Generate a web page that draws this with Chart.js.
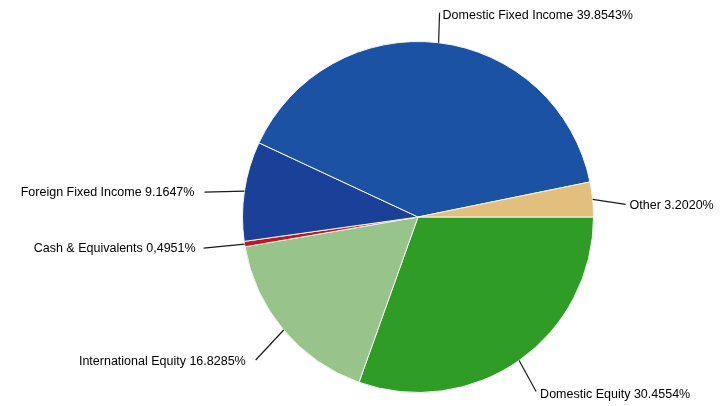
<!DOCTYPE html>
<html>
<head>
<meta charset="utf-8">
<script src="https://cdn.jsdelivr.net/npm/chart.js@4/dist/chart.umd.min.js"></script>
<style>
  html, body { margin: 0; padding: 0; background: #ffffff; }
  #wrap { width: 721px; height: 406px; }
</style>
</head>
<body>
<div id="wrap"><canvas id="c" width="721" height="406"></canvas></div>
<script>
const categories = ["Domestic Equity", "International Equity", "Cash & Equivalents", "Foreign Fixed Income", "Domestic Fixed Income", "Other"];
const values = [30.4554, 16.8285, 0.4951, 9.1647, 39.8543, 3.2020];
const valueLabels = ["30.4554%", "16.8285%", "0,4951%", "9.1647%", "39.8543%", "3.2020%"];
const colors = ["#2f9c25", "#98c38b", "#c4151c", "#1b4097", "#1b52a4", "#e2bf7d"];

// leader line offsets from the slice's outer edge (layout only)
const leaders = [
  { dx: 17, dy: 31, tx: 4, ty: 3, align: "left" },
  { dx: -28, dy: 30, tx: -10, ty: 2, align: "right" },
  { dx: -41, dy: 4, tx: -8, ty: 0, align: "right" },
  { dx: -40, dy: 1, tx: -10, ty: 0, align: "right" },
  { dx: 1, dy: -30, tx: 3, ty: 3, align: "left" },
  { dx: 33, dy: 5, tx: 4, ty: 1, align: "left" }
];

const labelPlugin = {
  id: "leaderLabels",
  afterDatasetsDraw(chart) {
    const ctx = chart.ctx;
    const meta = chart.getDatasetMeta(0);
    ctx.save();
    ctx.font = "12.5px 'Liberation Sans', Arial, sans-serif";
    ctx.textBaseline = "middle";
    meta.data.forEach((arc, i) => {
      const p = arc.getProps(["x", "y", "startAngle", "endAngle", "outerRadius"], true);
      const mid = (p.startAngle + p.endAngle) / 2;
      const sx = p.x + Math.cos(mid) * p.outerRadius;
      const sy = p.y + Math.sin(mid) * p.outerRadius;
      const L = leaders[i];
      const ex = sx + L.dx, ey = sy + L.dy;
      ctx.strokeStyle = "#1a1a1a";
      ctx.lineWidth = 1.2;
      ctx.beginPath();
      ctx.moveTo(sx, sy);
      ctx.lineTo(ex, ey);
      ctx.stroke();
      ctx.fillStyle = "#000000";
      ctx.textAlign = L.align;
      ctx.fillText(categories[i] + " " + valueLabels[i], ex + L.tx, ey + L.ty);
    });
    ctx.restore();
  }
};

new Chart(document.getElementById("c"), {
  type: "pie",
  data: {
    labels: categories,
    datasets: [{
      data: values,
      backgroundColor: colors,
      borderColor: "#f4f4f0",
      borderWidth: 1
    }]
  },
  options: {
    responsive: false,
    animation: false,
    devicePixelRatio: 1,
    rotation: 90,
    layout: { padding: { top: 41, bottom: 13, left: 242, right: 127 } },
    plugins: {
      legend: { display: false },
      tooltip: { enabled: false },
      title: { display: false }
    }
  },
  plugins: [labelPlugin]
});
</script>
</body>
</html>
